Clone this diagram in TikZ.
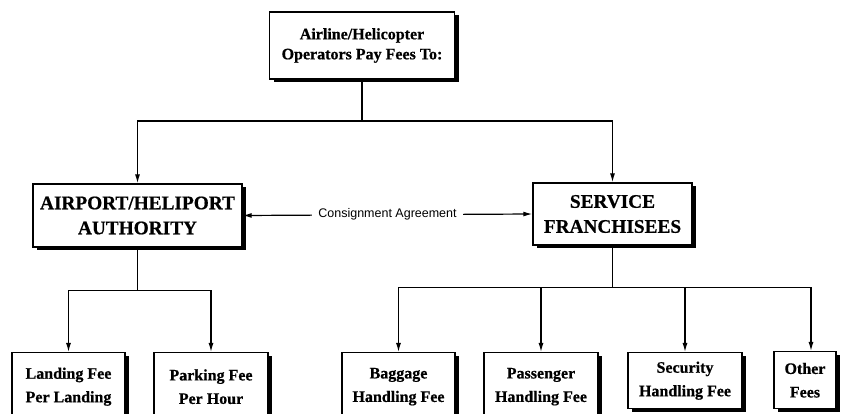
\documentclass[tikz,border=0pt]{standalone}
\usepackage{fontspec}
\setmainfont{Liberation Serif}[FakeBold=0.6]
\newfontfamily\agreefont{Liberation Sans}
\usetikzlibrary{arrows.meta,shadows}

\begin{document}
\begin{tikzpicture}[x=1pt,y=-1pt,box/.style={rectangle,draw=black,line width=1.4pt,fill=white,align=center,inner sep=2pt,drop shadow={shadow xshift=4pt,shadow yshift=-3.5pt,fill=black,opacity=1},font=\fontsize{16}{23.5}\selectfont\bfseries},head/.style={box,font=\fontsize{19.3}{25}\selectfont\bfseries},arrow/.style={-{Latex[length=9pt,width=5pt]},line width=1.2pt},line/.style={line width=1.2pt}]
\useasboundingbox (0,0) rectangle (847,414);
\node[box,minimum width=185pt,minimum height=67pt,font=\fontsize{16}{20}\selectfont\bfseries](top) at (362,45.5){Airline/Helicopter\\Operators Pay Fees To:};
\node[head,minimum width=209pt,minimum height=63pt](auth) at (137.5,215.5){AIRPORT/HELIPORT\\AUTHORITY};
\node[head,minimum width=159pt,minimum height=62pt](serv) at (612.5,214){SERVICE\\FRANCHISEES};
\node[box,anchor=north,minimum width=113pt,minimum height=68pt](land) at (68.5,352){Landing Fee\\Per Landing};
\node[box,anchor=north,minimum width=114pt,minimum height=68pt](park) at (211,352){Parking Fee\\Per Hour};
\node[box,anchor=north,minimum width=113pt,minimum height=68pt](bag) at (398.5,352){Baggage\\Handling Fee};
\node[box,anchor=north,minimum width=114pt,minimum height=68pt](pass) at (541,352){Passenger\\Handling Fee};
\node[box,anchor=north,minimum width=114pt,minimum height=56pt](sec) at (685,352){Security\\Handling Fee};
\node[box,anchor=north,minimum width=62pt,minimum height=57pt](oth) at (805,351){Other\\Fees};
% fee split from the operators
\coordinate (tj) at (362,121);
\draw[line](top.south)--(tj);
\foreach \n in {auth,serv}{\draw[arrow](tj)-|(\n.north);}
\draw[{Latex[length=9pt,width=5pt]}-{Latex[length=9pt,width=5pt]},line width=1.2pt](auth.east)--node[fill=white,inner sep=6pt,font=\agreefont\fontsize{12.5}{14}\selectfont]{Consignment Agreement}(serv.west);
% authority fees
\path (auth.south) ++(0,43) coordinate (aj);
\draw[line](auth.south)--(aj);
\foreach \n in {land,park}{\draw[arrow](aj)-|(\n.north);}
% franchisee fees
\path (serv.south) ++(0,42) coordinate (sj);
\draw[line](serv.south)--(sj);
\foreach \n in {bag,pass,sec}{\draw[arrow](sj)-|(\n.north);}
\draw[arrow](sj)-|([xshift=6pt]oth.north);
\end{tikzpicture}
\end{document}
